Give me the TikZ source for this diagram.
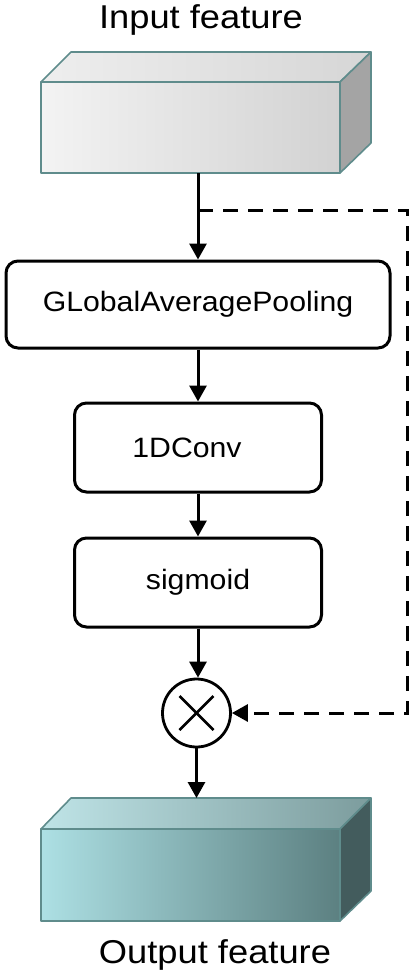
\documentclass[tikz,border=0pt]{standalone}
\usepackage{fontspec}
\setmainfont{Liberation Sans}
\usetikzlibrary{arrows.meta,calc}
\definecolor{edgec}{HTML}{5F8C8C}
\definecolor{inFL}{HTML}{F3F3F3}
\definecolor{inFR}{HTML}{D2D2D2}
\definecolor{inTL}{HTML}{EEEEEE}
\definecolor{inTR}{HTML}{D6D6D6}
\definecolor{inR}{HTML}{A4A4A4}
\definecolor{outFL}{HTML}{ADE0E4}
\definecolor{outFR}{HTML}{5C8081}
\definecolor{outTL}{HTML}{BFE4E7}
\definecolor{outTR}{HTML}{7C9C9D}
\definecolor{outR}{HTML}{435C5D}
\tikzset{
  procbox/.style={draw, line width=3pt, rounded corners=12pt, inner sep=0pt,
    font=\fontsize{28}{31}\selectfont},
  arr/.style={line width=3pt, -{Triangle[length=16pt,width=17pt]}},
  dsh/.style={line width=3pt, dash pattern=on 15pt off 10pt, -{Triangle[length=16pt,width=17pt]}},
  face/.style={draw=edgec, line width=1.6pt, line join=round},
  lbl/.style={font=\fontsize{33}{36}\selectfont, anchor=base, inner sep=0pt},
}
\begin{document}
\begin{tikzpicture}[x=1pt,y=-1pt]
\useasboundingbox (0,0) rectangle (412,980);
% input cuboid
\draw[face, left color=inFL, right color=inFR] (41,82) rectangle (340,173);
\draw[face, left color=inTL, right color=inTR] (41,82) -- (71,52) -- (371,52) -- (340,82) -- cycle;
\draw[face, fill=inR] (340,82) -- (371,52) -- (371,143) -- (340,173) -- cycle;
% output cuboid
\draw[face, left color=outFL, right color=outFR] (41,829) rectangle (340,921);
\draw[face, left color=outTL, right color=outTR] (41,829) -- (71,798) -- (371,798) -- (340,829) -- cycle;
\draw[face, fill=outR] (340,829) -- (371,798) -- (371,891) -- (340,921) -- cycle;
% labels
\node[lbl] (lin) at (201,28.5) {\scalebox{1.1}[1]{Input feature}};
\node[lbl] (lout) at (215,963) {\scalebox{1.1}[1]{Output feature}};
% coordinates
\coordinate (inb) at (198,173);
\coordinate (br) at (198,210);
\coordinate (cr1) at (407,210);
\coordinate (cr2) at (407,713);
\coordinate (outt) at (198,798);
% process boxes
\node[procbox, minimum width=384pt, minimum height=87pt] (gap) at (198,304.5) {\scalebox{1.08}[1]{GLobalAveragePooling}};
\node[procbox, minimum width=247pt, minimum height=89pt] (conv) at (198,447.5) {\hspace*{-22pt}\scalebox{1.08}[1]{1DConv}};
\node[procbox, minimum width=247pt, minimum height=89pt] (sig) at (198,582.5) {\scalebox{1.08}[1]{sigmoid}};
\node[draw, circle, line width=2.8pt, minimum size=68pt, inner sep=0pt] (mul) at (196.5,713) {};
\draw[line width=2.8pt] ($(mul.center)+(-17,-17)$) -- ($(mul.center)+(17,17)$);
\draw[line width=2.8pt] ($(mul.center)+(-17,17)$) -- ($(mul.center)+(17,-17)$);
% connectors
\draw[arr] (inb) -- (gap.north);
\draw[arr] (gap.south) -- (conv.north);
\draw[arr] (conv.south) -- (sig.north);
\draw[arr] (sig.south) -- (sig.south |- mul.north);
\draw[arr] (mul.south) -- (mul.south |- outt);
\draw[dsh] (br) -- (cr1) -- (cr2) -- (mul.east);
\end{tikzpicture}
\end{document}
